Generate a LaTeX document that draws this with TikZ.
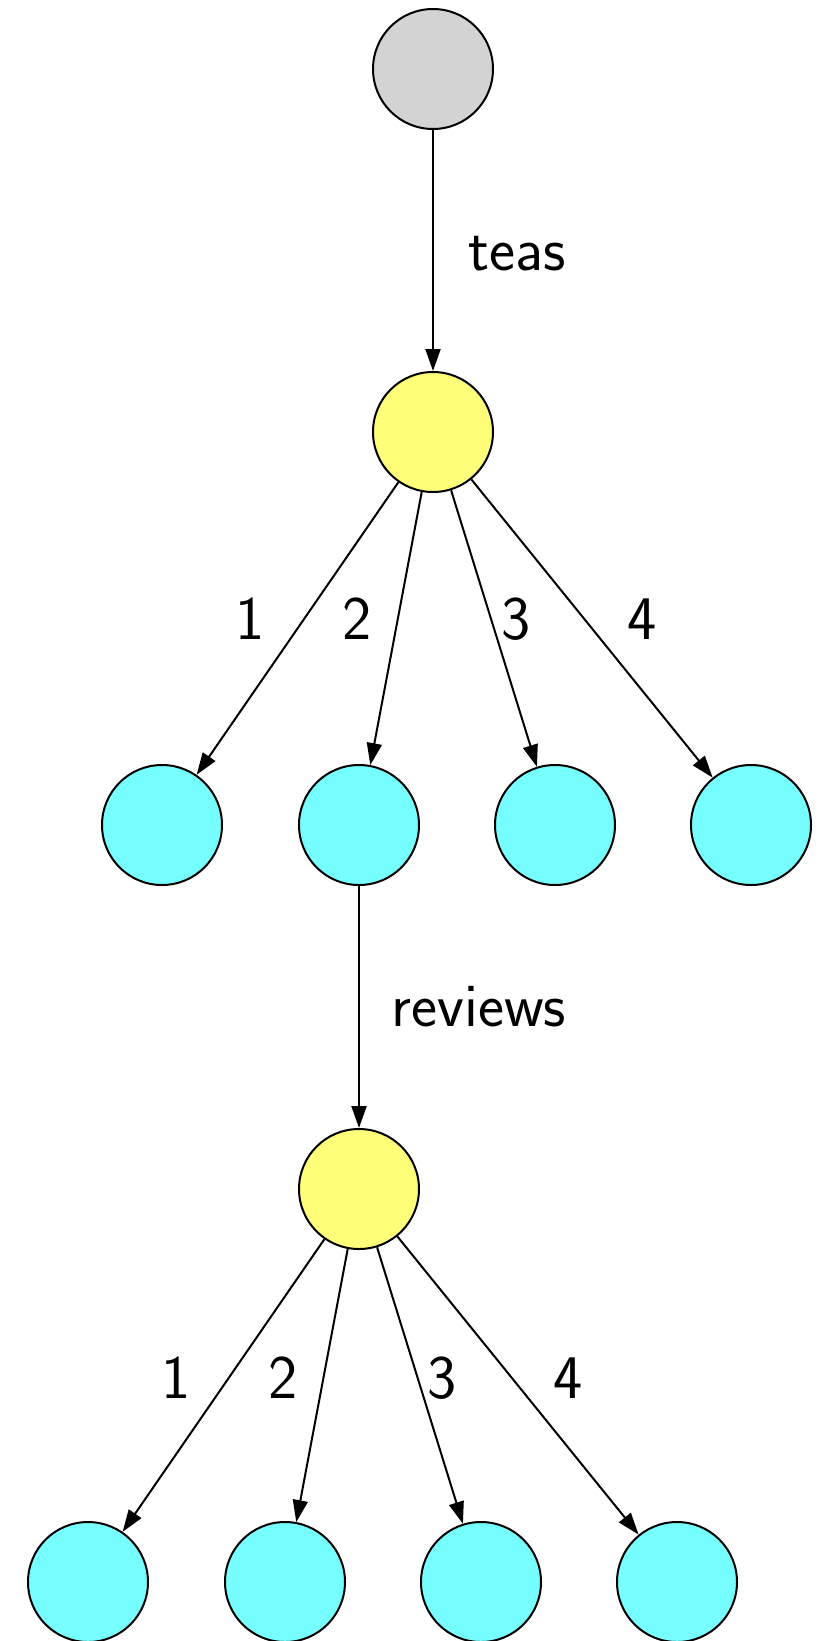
\documentclass[tikz,border=0pt]{standalone}
\usetikzlibrary{arrows.meta}
\definecolor{rootgray}{HTML}{D3D3D3}
\definecolor{nodeyellow}{HTML}{FFFF7A}
\definecolor{nodecyan}{HTML}{77FFFF}
\begin{document}
\begin{tikzpicture}[x=1pt,y=-1pt,
  vtx/.style={circle,draw=black,line width=2pt,minimum size=120pt,inner sep=0pt},
  grayvtx/.style={vtx,fill=rootgray},
  yelvtx/.style={vtx,fill=nodeyellow},
  cyanvtx/.style={vtx,fill=nodecyan},
  link/.style={line width=2pt,-{Triangle[length=22pt,width=15pt]}},
  lbl/.style={anchor=base,inner sep=0pt,font=\sffamily\fontsize{62}{68}\selectfont}]
\useasboundingbox (0,0) rectangle (829,1641);
% nodes
\node[grayvtx] (root) at (433,69) {};
\node[yelvtx] (y1) at (433,432) {};
\node[cyanvtx] (a1) at (162,825) {};
\node[cyanvtx] (a2) at (359,825) {};
\node[cyanvtx] (a3) at (555,825) {};
\node[cyanvtx] (a4) at (751,825) {};
\node[yelvtx] (y2) at (359,1189) {};
\node[cyanvtx] (b1) at (88,1582) {};
\node[cyanvtx] (b2) at (285,1582) {};
\node[cyanvtx] (b3) at (481,1582) {};
\node[cyanvtx] (b4) at (677,1582) {};
% edges
\draw[link] (root) -- (y1);
\draw[link] (y1) -- (a1);
\draw[link] (y1) -- (a2);
\draw[link] (y1) -- (a3);
\draw[link] (y1) -- (a4);
\draw[link] (a2) -- (y2);
\draw[link] (y2) -- (b1);
\draw[link] (y2) -- (b2);
\draw[link] (y2) -- (b3);
\draw[link] (y2) -- (b4);
% labels
\node[lbl] (lteas) at (517,270) {teas};
\node[lbl] (la1) at (250,639) {1};
\node[lbl] (la2) at (357,639) {2};
\node[lbl] (la3) at (516,639) {3};
\node[lbl] (la4) at (642,639) {4};
\node[lbl] (lrev) at (479,1026) {reviews};
\node[lbl] (lb1) at (176,1398) {1};
\node[lbl] (lb2) at (283,1398) {2};
\node[lbl] (lb3) at (442,1398) {3};
\node[lbl] (lb4) at (568,1398) {4};
\end{tikzpicture}
\end{document}
